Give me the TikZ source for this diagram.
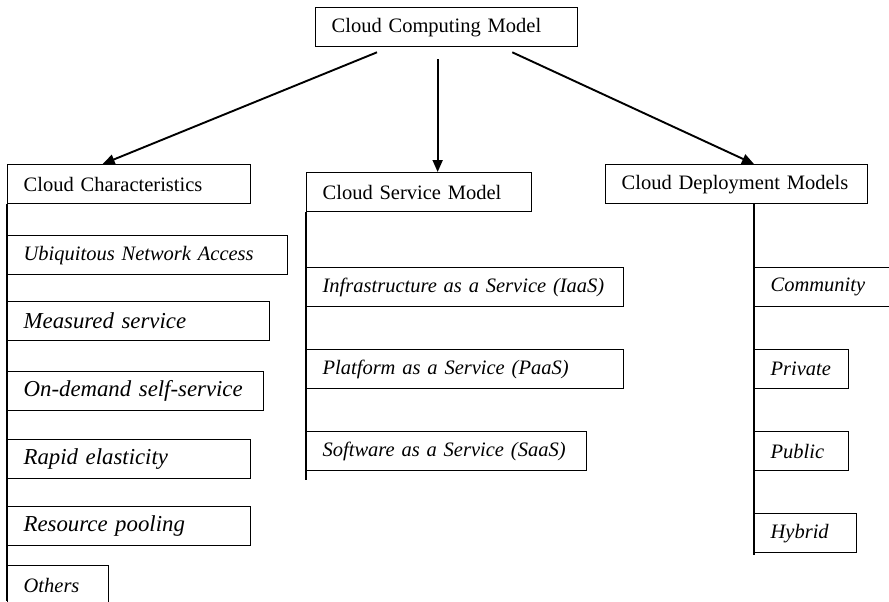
\documentclass[tikz,border=0pt]{standalone}
\usepackage{fontspec}
\setmainfont{Liberation Serif}
\usetikzlibrary{arrows.meta}

\begin{document}
\begin{tikzpicture}[
    x=0.5pt, y=-0.5pt,
    box/.style={draw, line width=0.65pt, anchor=north west, inner xsep=8pt, inner ysep=0pt, align=left, minimum height=19.5pt, text width=#1, font=\fontsize{10.25}{12}\selectfont},
    item/.style={box=#1, font=\fontsize{10.25}{12}\selectfont\itshape},
    bigitem/.style={box=#1, font=\fontsize{11.4}{13}\selectfont\itshape},
    link/.style={-{Triangle[length=6pt, width=5pt]}, line width=0.95pt},
    rail/.style={line width=0.65pt}
]
    \useasboundingbox (0,0) rectangle (889,601);
    \clip (0,0) rectangle (889,601);

    \node[box=115pt] (model) at (315,7) {Cloud Computing Model};

    \node[box=105.5pt] (chars) at (7,164) {Cloud Characteristics};
    \node[box=96.5pt] (service) at (306,172) {Cloud Service Model};
    \node[box=115pt] (deploy) at (605,164) {Cloud Deployment Models};

    \node[item=124pt] (ubiquitous) at (7,235) {Ubiquitous Network Access};
    \node[bigitem=115pt] (measured) at (7,301) {Measured service};
    \node[bigitem=112pt] (ondemand) at (7,371) {On-demand self-service};
    \node[bigitem=105.5pt] (rapid) at (7,439) {Rapid elasticity};
    \node[bigitem=105.5pt] (pooling) at (7,506) {Resource pooling};
    \node[item=34.5pt] (others) at (7,565) {Others};

    \node[item=142.5pt] (iaas) at (306,267) {Infrastructure as a Service (IaaS)};
    \node[item=142.5pt] (paas) at (306,349) {Platform as a Service (PaaS)};
    \node[item=124pt] (saas) at (306,431) {Software as a Service (SaaS)};

    \node[item=59pt] (community) at (754,267) {Community};
    \node[item=31pt] (private) at (754,349) {Private};
    \node[item=31pt] (public) at (754,431) {Public};
    \node[item=35pt] (hybrid) at (754,513) {Hybrid};

    \draw[link] ([xshift=31pt, yshift=-2.5pt]model.south west) -- ([xshift=-13.25pt]chars.north);
    \draw[link] ([xshift=-4.5pt, yshift=-6pt]model.south) -- ([xshift=-4.5pt]model.south |- service.north);
    \draw[link] ([xshift=-33pt, yshift=-2.5pt]model.south east) -- (deploy.north -| community.west);

    \coordinate (charsend) at (7,601);
    \coordinate (serviceend) at (306,480);
    \coordinate (deployend) at (754,555);
    \draw[rail] (chars.south west) -- (charsend);
    \draw[rail] (service.south west) -- (serviceend);
    \draw[rail] (deploy.south -| community.west) -- (deployend);
\end{tikzpicture}
\end{document}
